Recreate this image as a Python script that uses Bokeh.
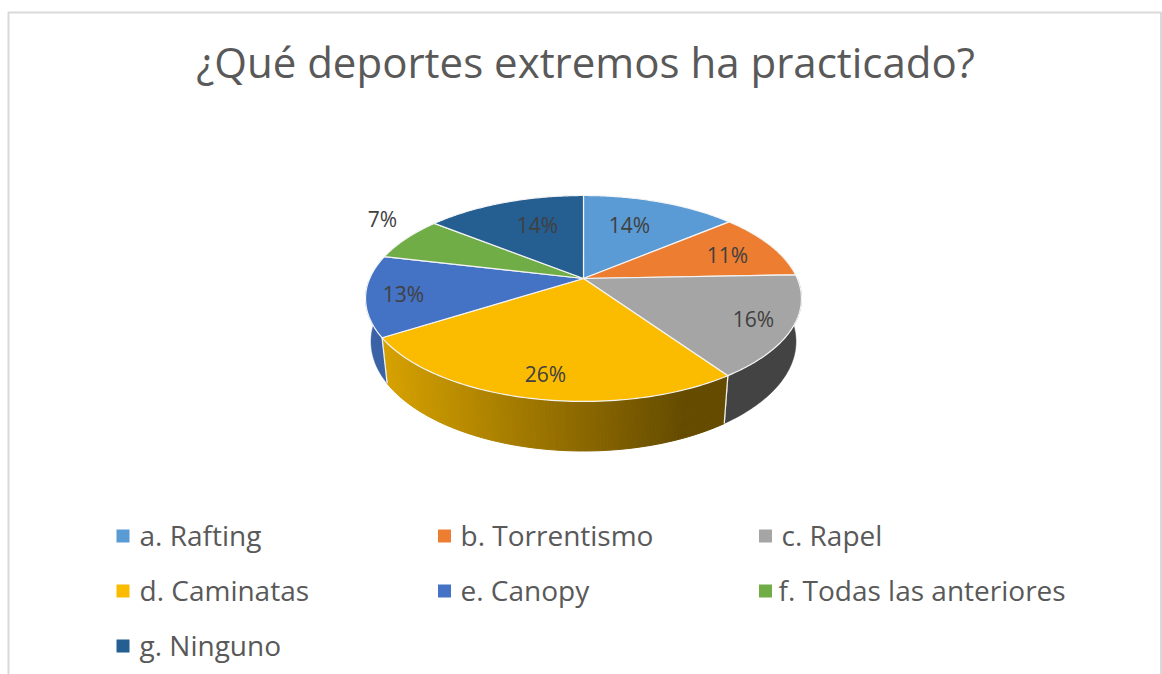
import math
from bokeh.plotting import figure
from bokeh.embed import file_html
from bokeh.resources import INLINE
from bokeh.core.properties import value

title_text = "¿Qué deportes extremos ha practicado?"
categories = ["a. Rafting", "b. Torrentismo", "c. Rapel", "d. Caminatas",
              "e. Canopy", "f. Todas las anteriores", "g. Ninguno"]
percents = [14, 11, 16, 26, 13, 7, 14]
shares = [13.9, 10.5, 16.0, 25.6, 12.7, 7.0, 14.3]
colors = ["#5B9BD5", "#ED7D31", "#A5A5A5", "#FBBC00", "#4472C4", "#70AD47", "#255E91"]
side_colors = ["#3F6C94", "#A4561F", "#434343", None, "#3A62A5", "#4E7A31", "#1A4265"]

# layout (page pixels)
label_x = [629, 727, 753, 545, 403, 382, 537]
label_y = [224, 254, 318, 373, 293, 218, 224]
marker_x = [122.5, 444, 765, 122.5, 444, 765, 122.5]
legend_x = [139, 460, 781, 139, 460, 778, 139]
legend_y = [535.5, 535.5, 535.5, 590.5, 590.5, 590.5, 645.5]
legend_text_y = [534, 534, 534, 589, 589, 589, 644]

CX, CY = 583.0, 278.0
A, B, K = 99.1, 213.8, 0.194


def top_pt(t):
    s, c = math.cos(t), math.sin(t)
    d = 1 + K * s
    return CX + B * c / d, CY - A * s / d


def bottom_pt(t):
    x, y = top_pt(t)
    off = y - CY
    return CX + 0.975 * (x - CX), CY + 41.8 + 1.063 * off


def arc(fn, t0, t1, n):
    return [fn(t0 + (t1 - t0) * i / n) for i in range(n + 1)]


def mix(c0, c1, f):
    return "#%02x%02x%02x" % tuple(round(a + (b - a) * f) for a, b in zip(c0, c1))


p = figure(width=1162, height=674, x_range=(0, 1162), y_range=(674, 0),
           output_backend="svg", toolbar_location=None, min_border=0,
           outline_line_color=None, background_fill_color="white")
p.axis.visible = False
p.grid.visible = False

# chart frame
p.line([8, 8, 1160.5, 1160.5], [674, 12, 12, 674], line_color="#D9D9D9", line_width=2)

total = sum(shares)
edges = [0.0]
for v in shares:
    edges.append(edges[-1] + v / total * 2 * math.pi)

VIS0, VIS1 = math.radians(90), math.radians(268)

# side walls
for i in range(len(shares)):
    t0, t1 = max(edges[i], VIS0), min(edges[i + 1], VIS1)
    if t1 <= t0:
        continue
    if side_colors[i] is None:
        n = 120
        x_lo, x_hi = 385.0, 683.0
        for j in range(n):
            a0 = t0 + (t1 - t0) * j / n
            a1 = t0 + (t1 - t0) * (j + 1) / n
            pts = arc(top_pt, a0, a1, 1) + arc(bottom_pt, a1, a0, 1)
            mx = sum(q[0] for q in pts) / 4
            f = min(1, max(0, (mx - x_lo) / (x_hi - x_lo)))
            col = mix((0xD6, 0xA1, 0x00), (0x64, 0x4B, 0x00), f)
            p.patch([q[0] for q in pts], [q[1] for q in pts], fill_color=col, line_color=col, line_width=1)
    else:
        pts = arc(top_pt, t0, t1, 60) + arc(bottom_pt, t1, t0, 60)
        p.patch([q[0] for q in pts], [q[1] for q in pts], fill_color=side_colors[i], line_color=side_colors[i], line_width=0.5)
    for e in (edges[i], edges[i + 1]):
        if VIS0 < e < VIS1:
            a, b = top_pt(e), bottom_pt(e)
            p.line([a[0], b[0]], [a[1], b[1]], line_color="#F2F2F2", line_width=1.2)

# top faces
for i in range(len(shares)):
    pts = [(CX, CY)] + arc(top_pt, edges[i], edges[i + 1], 80)
    p.patch([q[0] for q in pts], [q[1] for q in pts], fill_color=colors[i],
            line_color="#F4F4F4", line_width=1.2, line_join="round")

# data labels
p.text(label_x, label_y, text=[f"{v}%" for v in percents], text_font=value("Open Sans"),
       text_font_size="21px", text_color="#404040", text_align="center", text_baseline="middle")

# title
p.text([585], [61], text=[title_text], text_font=value("Open Sans"), text_font_size="42px",
       text_color="#595959", text_align="center", text_baseline="middle")

# legend
p.scatter(marker_x, legend_y, marker="square", size=13, fill_color=colors, line_color=None)
p.text(legend_x, legend_text_y, text=categories, text_font=value("Open Sans"),
       text_font_size="28px", text_color="#595959", text_align="left", text_baseline="middle")

open("out.html", "w").write(file_html(p, INLINE))
